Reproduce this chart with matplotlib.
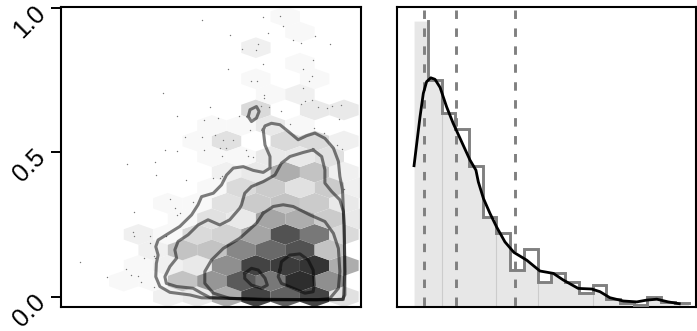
import numpy as np
import matplotlib
matplotlib.use('Agg')
import matplotlib.pyplot as plt
from matplotlib.transforms import ScaledTranslation

plt.rcParams['font.family'] = ['Liberation Sans', 'DejaVu Sans']

# Hexbin counts, one list per row of hexagons
hex_y = [0.0, 0.054, 0.108, 0.162, 0.215, 0.269, 0.323, 0.377, 0.431, 0.485,
         0.539, 0.592, 0.646, 0.700, 0.754, 0.808, 0.862, 0.915, 0.969]
hex_x = [
    [0.4, 0.5, 0.6, 0.7, 0.8, 0.9, 1.0],
    [0.25, 0.35, 0.45, 0.55, 0.65, 0.75, 0.85, 0.95],
    [0.3, 0.4, 0.5, 0.6, 0.7, 0.8, 0.9, 1.0],
    [0.35, 0.45, 0.55, 0.65, 0.75, 0.85, 0.95],
    [0.3, 0.4, 0.5, 0.6, 0.7, 0.8, 0.9, 1.0],
    [0.45, 0.55, 0.65, 0.75, 0.85, 0.95, 1.05],
    [0.4, 0.5, 0.6, 0.7, 0.8, 0.9, 1.0],
    [0.55, 0.65, 0.75, 0.85, 0.95, 1.05],
    [0.6, 0.7, 0.8, 0.9, 1.0],
    [0.55, 0.65, 0.75, 0.85, 0.95],
    [0.5, 0.6, 0.8, 0.9, 1.0],
    [0.55, 0.65, 0.75, 0.85],
    [0.7, 0.9, 1.0],
    [0.75, 0.85],
    [0.7, 0.9],
    [0.85],
    [0.7],
    [0.85],
    [0.8],
]
hex_n = [
    [2, 3, 11, 25, 21, 25, 4],
    [1, 1, 8, 14, 22, 18, 28, 15],
    [1, 2, 3, 15, 25, 26, 27, 11],
    [2, 8, 8, 16, 20, 23, 8],
    [2, 1, 5, 6, 12, 23, 18, 5],
    [1, 4, 3, 12, 11, 7, 3],
    [1, 1, 4, 7, 8, 7, 3],
    [1, 5, 7, 4, 7, 2],
    [2, 3, 11, 8, 2],
    [1, 1, 3, 3, 4],
    [1, 4, 5, 5, 2],
    [1, 1, 3, 1],
    [5, 3, 3],
    [1, 2],
    [1, 1],
    [1],
    [2],
    [1],
    [1],
]

# Outlying points
dots_x = [.517, .723, .782, .791, .613, .742, .827, .853, .903, .952, .708, .652, .702, .895, .725, .605,
          .859, .891, .882, .685, .704, .861, .382, .727, .727, .892, .867, .852, .716, .745, .545, .910,
          .941, .958, .989, .785, .433, .643, .572, .523, .983, .816, .679, .898, .933, .515, .460, .562,
          .589, .623, .577, .598, .977, .992, .666, .674, .691, .524, .585, .390, .430, .358, .262,
          .361, .461, .554, .577, .585, .407, .426, .486, .441, .430, .284, .282, .284, .339, .339, .395,
          .352, .356, .318, .257, .102, .194, .273, .297, .308, .352, 1.0]
dots_y = [.958, .968, .970, .935, .907, .912, .887, .878, .901, .875, .875, .858, .855, .818, .805, .788,
          .788, .762, .745, .748, .748, .722, .704, .699, .687, .679, .676, .667, .660, .658, .655, .658,
          .652, .660, .662, .644, .626, .624, .618, .610, .615, .598, .577, .583, .568, .554, .551, .558,
          .543, .543, .514, .514, .525, .510, .506, .488, .483, .508, .488, .508, .505, .465, .460,
          .422, .402, .410, .412, .416, .338, .308, .326, .289, .283, .292, .225, .211, .211, .187, .210,
          .139, .135, .133, .096, .120, .067, .075, .073, .049, .032, .373]

# Density contours
outer_x = [.725, .731, .753, .782, .810, .844, .873, .901, .935, .964, .981, .986, .995, .998, 1.001, 1.003,
           1.003, .995, .952, .725, .611, .515, .475, .407, .373, .359, .361, .367, .359, .367, .395, .441,
           .481, .503, .515, .555, .583, .600, .623, .657, .691, .725, .748, .748, .731, .725]
outer_y = [.577, .591, .600, .595, .572, .543, .557, .566, .548, .514, .468, .416, .370, .300, .202, .087,
           .006, -.009, -.011, -.009, -.006, -.004, .006, .015, .035, .069, .115, .144, .173, .196, .214, .243,
           .283, .318, .346, .358, .387, .421, .445, .450, .437, .430, .445, .485, .525, .577]
middle_x = [.895, .861, .816, .787, .765, .725, .685, .662, .651, .645, .611, .577, .537, .503, .469, .435,
            .424, .430, .407, .390, .395, .430, .486, .515, .543, .725, .998, 1.003, 1.001, .998, .986, .958,
            .935, .935, .924, .895]
middle_y = [.508, .499, .485, .462, .421, .398, .381, .358, .318, .306, .266, .248, .266, .248, .214, .191,
            .162, .133, .104, .069, .046, .035, .029, .012, -.003, -.010, -.010, .087, .248, .295, .335, .364,
            .393, .439, .485, .508]
inner_x = [.725, .759, .793, .827, .884, .935, .964, .981, .986, .981, .952, .907, .725, .611, .555, .526,
           .526, .549, .589, .645, .702, .725]
inner_y = [.289, .312, .318, .312, .283, .260, .219, .167, .087, .029, -.006, -.011, -.011, -.006, .012, .046,
           .087, .127, .167, .202, .254, .289]
peak1_x = [.782, .787, .816, .850, .878, .895, .899, .895, .867, .827, .787, .776, .782]
peak1_y = [.092, .121, .144, .148, .127, .092, .040, .017, .012, .029, .046, .069, .092]
peak2_x = [.662, .685, .708, .731, .739, .719, .685, .662, .662]
peak2_y = [.081, .098, .092, .064, .040, .029, .040, .063, .081]
ring_x = [.674, .680, .702, .711, .702, .685, .674]
ring_y = [.623, .647, .658, .641, .618, .606, .623]

# Histogram on the right
hist_edges = [.058, .104, .150, .196, .241, .287, .333, .379, .425, .471, .517,
              .563, .609, .655, .700, .746, .792, .838, .884, .930, .976]
hist_vals = [95.2, 75.6, 64.4, 59.4, 47.0, 30.0, 24.7, 12.2, 19.1, 8.1,
             11.3, 8.1, 4.7, 7.2, 2.5, 1.3, 0.6, 3.3, 1.7, 1.3]
split_x = [.150, .333, .471, .655]
split_top = [64.4, 24.7, 8.1, 4.6]
kde_x = [.058, .067, .078, .089, .100, .114, .128, .145, .167, .189, .217, .245, .265, .273, .290, .312,
         .334, .362, .392, .435, .479, .524, .557, .607, .652, .680, .713, .758, .803, .836, .870, .908, .945]
kde_y = [47.0, 54.4, 63.3, 71.1, 75.0, 76.3, 75.8, 73.1, 66.6, 61.1, 55.0, 48.9, 45.5, 41.6, 36.1, 31.1,
         26.6, 21.6, 18.1, 15.5, 11.9, 11.1, 8.9, 6.1, 5.9, 5.0, 3.0, 1.9, 1.6, 2.2, 2.5, 1.6, 1.0]
quantiles = [.0924, .198, .397]

fig = plt.figure(figsize=(6.97, 3.31), dpi=100)
ax1 = fig.add_axes([60.7 / 697, 1 - 306.7 / 331, 300.3 / 697, 300 / 331])
ax2 = fig.add_axes([396.7 / 697, 1 - 306.7 / 331, 299 / 697, 300 / 331])

# Left panel
pts_x = np.concatenate([np.repeat(xs, ns) for xs, ns in zip(hex_x, hex_n)])
pts_y = np.concatenate([np.repeat(y, sum(ns)) for y, ns in zip(hex_y, hex_n)])
ax1.hexbin(pts_x, pts_y, gridsize=(11, 10), extent=(0, 1.1, 0, 1.077), mincnt=1,
           cmap='gray_r', vmin=0, vmax=34, edgecolors='none', linewidths=0)
ax1.scatter(dots_x, dots_y, s=1.0, color='#777777', linewidths=0, zorder=2)
for cx, cy in [(outer_x, outer_y), (middle_x, middle_y), (inner_x, inner_y),
               (peak1_x, peak1_y), (peak2_x, peak2_y), (ring_x, ring_y)]:
    ax1.plot(cx, cy, color='black', alpha=0.5, lw=2.2, zorder=3)
ax1.set_xlim(0.0352, 1.058)
ax1.set_ylim(-0.0348, 1.0035)
ax1.set_xticks([])
ax1.set_yticks([0.0, 0.5, 1.0])
ax1.tick_params(axis='y', length=7.5, width=1.4, pad=3.5, labelsize=18)
for lab in ax1.get_yticklabels():
    lab.set_rotation(45)
    lab.set_ha('right')
    lab.set_va('top')
    lab.set_transform(lab.get_transform() + ScaledTranslation(5 / 100, 7 / 100, fig.dpi_scale_trans))

# Right panel
edges = np.array(hist_edges)
vals = np.array(hist_vals)
fill_x = np.sort(np.concatenate([edges, edges - 1e-6, np.linspace(edges[2], edges[-1], 400)]))
fill_x = fill_x[fill_x >= edges[0]]
idx = np.clip(np.searchsorted(edges, fill_x, side='right') - 1, 0, len(vals) - 1)
fill_y = vals[idx]
curve = np.interp(fill_x, kde_x, kde_y)
low = fill_x >= edges[2]
fill_y[low] = np.minimum(fill_y[low], curve[low])
ax2.fill_between(fill_x, 0, fill_y, color='#e7e7e7', lw=0, zorder=1)
ax2.vlines(split_x, 0, split_top, color='#cccccc', lw=0.8, zorder=2)
for q in quantiles:
    ax2.plot([q, q], [98.9, 0], color='#808080', lw=2.1, ls=(0, (2.9, 3.25)), zorder=3)
step_x = np.repeat(edges[1:], 2)[:-1]
step_y = np.repeat(vals, 2)[1:]
ax2.plot(step_x, step_y, color='#808080', lw=2.1, solid_joinstyle='miter', zorder=4)
ax2.plot(kde_x, kde_y, color='black', lw=2.0, zorder=5)
ax2.set_xlim(0, 1)
ax2.set_ylim(0, 100)
ax2.set_xticks([])
ax2.set_yticks([])

for ax in (ax1, ax2):
    for sp in ax.spines.values():
        sp.set_linewidth(1.5)

fig.savefig('out.png', dpi=100)
